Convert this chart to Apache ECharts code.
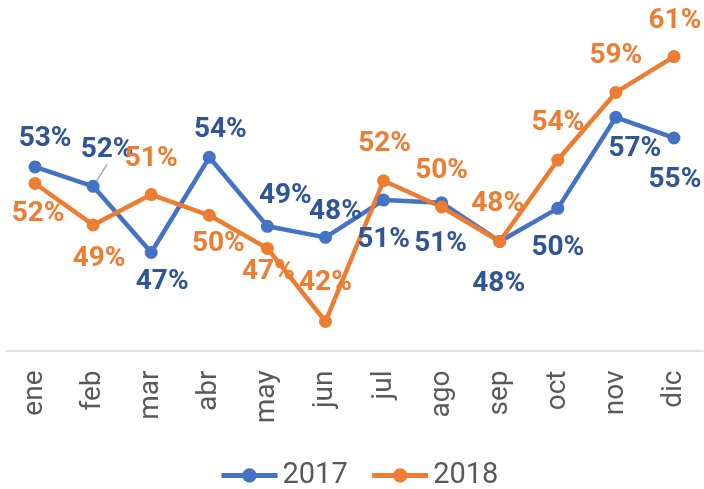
<!DOCTYPE html>
<html>
<head>
<meta charset="utf-8">
<script src="https://cdn.jsdelivr.net/npm/echarts@6/dist/echarts.min.js"></script>
<style>
  html, body { margin: 0; padding: 0; background: #fff; }
  #chart { width: 704px; height: 489px; }
</style>
</head>
<body>
<div id="chart"></div>
<script>
var months = ['ene', 'feb', 'mar', 'abr', 'may', 'jun', 'jul', 'ago', 'sep', 'oct', 'nov', 'dic'];
var values2017 = [53.3, 51.9, 47.1, 54.0, 49.0, 48.2, 50.9, 50.7, 47.9, 50.3, 56.9, 55.4];
var values2018 = [52.1, 49.1, 51.3, 49.8, 47.4, 42.1, 52.3, 50.4, 47.9, 53.8, 58.7, 61.3];

// where each data label sits, relative to its point
var offsets2017 = [[10, -28], [14, -36], [11, 29], [11, -27], [18, -30], [10, -25],
                   [0, 40], [-1, 41], [-1, 43], [0, 40], [19, 32], [1, 42]];
var offsets2018 = [[3, 30], [6, 34], [0, -36], [9, 29], [1, 24], [0, -39],
                   [1, -37], [0, -36], [-2, -37], [0, -37], [0, -36], [1, -36]];

var myChart = echarts.init(document.getElementById('chart'));

function buildData(values, offsets) {
    return values.map(function (v, i) {
        return { value: v, label: { offset: offsets[i] } };
    });
}

function makeSeries(name, values, offsets, lineColor, labelColor) {
    return {
        name: name,
        type: 'line',
        data: buildData(values, offsets),
        symbol: 'circle',
        symbolSize: 13,
        itemStyle: { color: lineColor },
        lineStyle: { color: lineColor, width: 4.5 },
        label: {
            show: true,
            position: 'inside',
            color: labelColor,
            fontFamily: 'Roboto',
            fontWeight: 'bold',
            fontSize: 28,
            formatter: function (p) { return Math.round(p.value) + '%'; }
        },
        emphasis: { disabled: true },
        animation: false
    };
}

var series2017 = makeSeries('2017', values2017, offsets2017, '#4472C4', '#2F5597');
// feb label in the original has a small leader line
series2017.data[1].labelLine = { show: true, length2: 0, lineStyle: { color: '#A6A6A6', width: 1.5 } };

var option = {
    backgroundColor: '#fff',
    grid: { left: 6, right: 1, top: 5.5, bottom: 138.5, containLabel: false },
    legend: {
        bottom: -6,
        left: 214,
        itemWidth: 56,
        itemHeight: 18,
        itemGap: 22,
        lineStyle: { width: 5 },
        textStyle: { color: '#595959', fontFamily: 'Roboto', fontSize: 29 },
        data: ['2017', '2018']
    },
    xAxis: {
        type: 'category',
        data: months,
        boundaryGap: true,
        axisLine: { lineStyle: { color: '#D9D9D9', width: 1.5 } },
        axisTick: { show: false },
        axisLabel: {
            rotate: 90,
            margin: 20,
            color: '#595959',
            fontFamily: 'Roboto',
            fontSize: 28
        }
    },
    yAxis: {
        type: 'value',
        min: 40,
        max: 65,
        show: false,
        splitLine: { show: false }
    },
    series: [
        series2017,
        makeSeries('2018', values2018, offsets2018, '#ED7D31', '#ED7D31')
    ]
};

myChart.setOption(option);
</script>
</body>
</html>
